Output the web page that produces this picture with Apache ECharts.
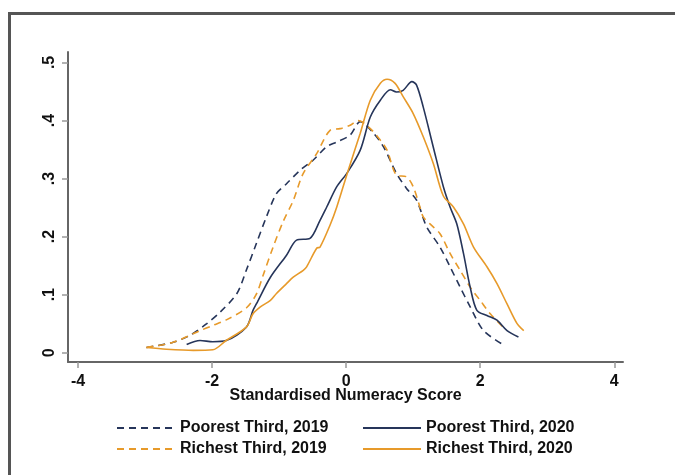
<!DOCTYPE html>
<html>
<head>
<meta charset="utf-8">
<script src="https://cdn.jsdelivr.net/npm/echarts@6/dist/echarts.min.js"></script>
<style>html,body{margin:0;padding:0;background:#fff;}#c{width:675px;height:475px;}</style>
</head>
<body>
<div id="c"></div>
<script>
// ---- data ----
var seriesNames = ['Poorest Third, 2019', 'Richest Third, 2019', 'Poorest Third, 2020', 'Richest Third, 2020'];
var xTicks = [-4, -2, 0, 2, 4];
var yTicks = [0, 0.1, 0.2, 0.3, 0.4, 0.5];
var xAxisTitle = 'Standardised Numeracy Score';

var poor2019X = [-2.98, -2.58, -2.33, -2.08, -1.88, -1.63, -1.49, -1.34, -1.19, -1.04, -0.89, -0.69, -0.49, -0.29, -0.14, 0.06, 0.21, 0.41, 0.56, 0.75, 0.90, 1.05, 1.20, 1.40, 1.55, 1.70, 1.85, 2.05, 2.37];
var poor2019Y = [0.009, 0.018, 0.030, 0.050, 0.070, 0.102, 0.142, 0.188, 0.234, 0.274, 0.291, 0.314, 0.332, 0.355, 0.363, 0.375, 0.398, 0.378, 0.354, 0.309, 0.283, 0.263, 0.217, 0.182, 0.148, 0.113, 0.079, 0.038, 0.012];

var rich2019X = [-2.98, -2.58, -2.18, -1.99, -1.78, -1.49, -1.34, -1.24, -1.09, -0.94, -0.79, -0.64, -0.44, -0.24, -0.09, 0.06, 0.18, 0.36, 0.51, 0.61, 0.75, 0.90, 1.00, 1.10, 1.15, 1.25, 1.40, 1.55, 1.70, 1.85, 2.00, 2.15, 2.34];
var rich2019Y = [0.009, 0.018, 0.038, 0.047, 0.057, 0.077, 0.101, 0.133, 0.182, 0.226, 0.262, 0.309, 0.343, 0.383, 0.386, 0.392, 0.400, 0.386, 0.366, 0.349, 0.306, 0.303, 0.286, 0.251, 0.234, 0.222, 0.205, 0.171, 0.142, 0.113, 0.090, 0.067, 0.044];

var poor2020X = [-2.38, -2.18, -1.99, -1.79, -1.49, -1.39, -1.34, -1.13, -0.89, -0.74, -0.54, -0.39, -0.29, -0.14, 0.01, 0.21, 0.36, 0.51, 0.66, 0.75, 0.85, 0.98, 1.05, 1.15, 1.30, 1.45, 1.55, 1.65, 1.75, 1.85, 1.95, 2.10, 2.25, 2.40, 2.57];
var poor2020Y = [0.014, 0.021, 0.019, 0.021, 0.044, 0.073, 0.084, 0.130, 0.168, 0.194, 0.197, 0.228, 0.251, 0.286, 0.309, 0.349, 0.406, 0.435, 0.453, 0.449, 0.452, 0.467, 0.461, 0.423, 0.354, 0.286, 0.251, 0.222, 0.171, 0.113, 0.073, 0.064, 0.056, 0.038, 0.027];

var rich2020X = [-2.98, -2.68, -2.28, -1.99, -1.79, -1.49, -1.39, -1.28, -1.13, -1.04, -0.89, -0.79, -0.64, -0.59, -0.44, -0.39, -0.24, -0.14, 0.03, 0.21, 0.36, 0.51, 0.61, 0.73, 0.85, 1.00, 1.15, 1.30, 1.45, 1.60, 1.75, 1.90, 2.10, 2.25, 2.40, 2.55, 2.65];
var rich2020Y = [0.009, 0.006, 0.004, 0.005, 0.021, 0.044, 0.067, 0.079, 0.090, 0.102, 0.119, 0.130, 0.142, 0.148, 0.180, 0.182, 0.220, 0.251, 0.314, 0.378, 0.435, 0.464, 0.471, 0.464, 0.441, 0.412, 0.372, 0.326, 0.270, 0.251, 0.222, 0.182, 0.148, 0.119, 0.084, 0.050, 0.038];

// ---- build ----
function pairs(xs, ys) { return xs.map(function (x, i) { return [x, ys[i]]; }); }
var NAVY = '#26355a', ORANGE = '#e79a2a';
var FONT = 'Liberation Sans';
var txt = { fontFamily: FONT, fontSize: 16, fontWeight: 'bold', color: '#111' };

function lineSeries(name, xs, ys, color, dashed) {
  return {
    name: name, type: 'line', data: pairs(xs, ys), showSymbol: false, symbol: 'none',
    smooth: 0.3, animation: false, silent: true,
    lineStyle: { color: color, width: 1.6, type: dashed ? [7, 5] : 'solid' },
    itemStyle: { color: color }
  };
}

var chart = echarts.init(document.getElementById('c'), null, { renderer: 'canvas' });
function makeLegend(left, names) {
  return {
    orient: 'vertical', left: left, top: 415, itemWidth: 58, itemHeight: 12, itemGap: 5,
    textStyle: { fontFamily: FONT, fontSize: 16, fontWeight: 'bold', color: '#111' },
    itemStyle: { opacity: 0 },
    selectedMode: false, data: names
  };
}
chart.setOption({
  animation: false,
  backgroundColor: '#fff',
  graphic: [{
    type: 'rect', left: 7, top: 11, shape: { width: 700, height: 500 },
    style: { fill: 'none', stroke: '#555', lineWidth: 3 }, silent: true
  }],
  grid: { left: 68, right: 52, top: 52, bottom: 113, containLabel: false },
  legend: [
    makeLegend(111, [seriesNames[0], seriesNames[1]]),
    makeLegend(357, [seriesNames[2], seriesNames[3]])
  ],
  xAxis: {
    type: 'value', min: -4.15, max: 4.13,
    name: xAxisTitle, nameLocation: 'middle', nameGap: 26, nameMoveOverlap: false,
    nameTextStyle: txt,
    axisLine: { show: true, onZero: false, lineStyle: { color: '#666', width: 2 } },
    axisTick: { show: true, length: 6, customValues: xTicks, lineStyle: { color: '#999', width: 1.5 } },
    axisLabel: { customValues: xTicks, margin: 12, formatter: function (v) { return String(v); }, fontFamily: FONT, fontSize: 16, fontWeight: 'bold', color: '#111' },
    splitLine: { show: false }
  },
  yAxis: {
    type: 'value', min: -0.016, max: 0.518,
    axisLine: { show: true, onZero: false, lineStyle: { color: '#666', width: 2 } },
    axisTick: { show: true, length: 6, customValues: yTicks, lineStyle: { color: '#999', width: 1.5 } },
    axisLabel: {
      customValues: yTicks, rotate: 90, margin: 10,
      formatter: function (v) { return v === 0 ? '0' : String(Math.round(v * 10) / 10).replace(/^0/, ''); },
      fontFamily: FONT, fontSize: 16, fontWeight: 'bold', color: '#111'
    },
    splitLine: { show: false }
  },
  series: [
    lineSeries(seriesNames[0], poor2019X, poor2019Y, NAVY, true),
    lineSeries(seriesNames[1], rich2019X, rich2019Y, ORANGE, true),
    lineSeries(seriesNames[2], poor2020X, poor2020Y, NAVY, false),
    lineSeries(seriesNames[3], rich2020X, rich2020Y, ORANGE, false)
  ]
});
</script>
</body>
</html>
